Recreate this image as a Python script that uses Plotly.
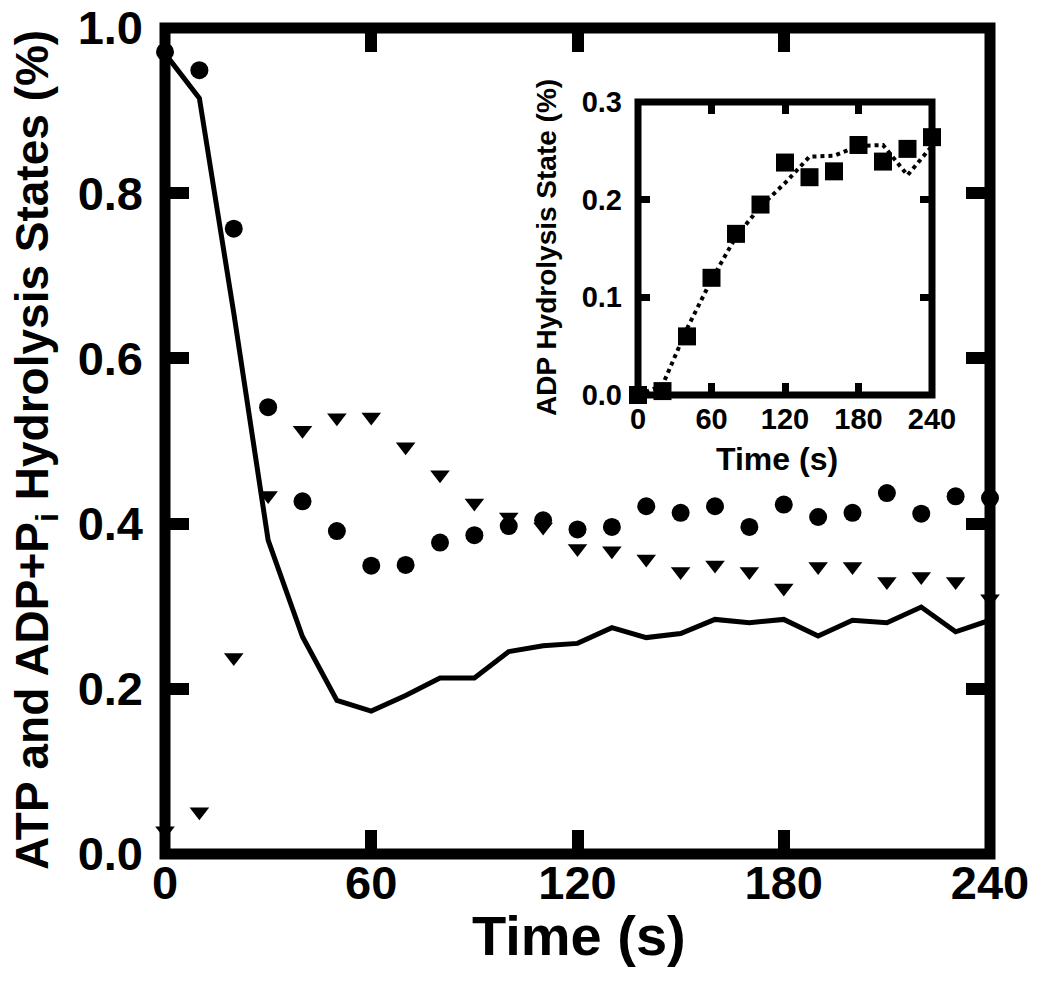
import plotly.graph_objects as go

# ---------------- data ----------------
time_main = [0, 10, 20, 30, 40, 50, 60, 70, 80, 90, 100, 110, 120, 130, 140, 150,
             160, 170, 180, 190, 200, 210, 220, 230, 240]
atp_circles = [0.971, 0.949, 0.757, 0.541, 0.427, 0.391, 0.349, 0.350, 0.377, 0.386,
               0.397, 0.404, 0.393, 0.396, 0.421, 0.413, 0.421, 0.396, 0.423, 0.408,
               0.413, 0.437, 0.412, 0.433, 0.431]
adppi_triangles = [0.028, 0.051, 0.238, 0.434, 0.513, 0.528, 0.529, 0.493, 0.459, 0.425,
                   0.408, 0.396, 0.370, 0.367, 0.357, 0.342, 0.350, 0.342, 0.322, 0.348,
                   0.348, 0.330, 0.336, 0.330, 0.309]
model_line = [0.969, 0.915, 0.655, 0.380, 0.263, 0.186, 0.173, 0.192, 0.213, 0.213,
              0.245, 0.252, 0.255, 0.274, 0.262, 0.267, 0.284, 0.280, 0.284, 0.264,
              0.283, 0.280, 0.299, 0.269, 0.283]

time_inset = [0, 20, 40, 60, 80, 100, 120, 140, 160, 180, 200, 220, 240]
adp_squares = [0.000, 0.004, 0.060, 0.120, 0.165, 0.195, 0.238, 0.223, 0.229, 0.256,
               0.239, 0.252, 0.264]
adp_model = [0.000, 0.010, 0.068, 0.118, 0.162, 0.193, 0.217, 0.244, 0.245, 0.255,
             0.256, 0.225, 0.255]

x_ticks = [0, 60, 120, 180, 240]
y_ticks_main = [0.0, 0.2, 0.4, 0.6, 0.8, 1.0]
y_ticks_inset = [0.0, 0.1, 0.2, 0.3]

# ---------------- layout geometry (pixels of the 1050x984 page) ----------------
W, H = 1050, 984
FONT = "Liberation Sans, Arial, Helvetica, sans-serif"


def px_x(p):
    return p / W


def px_y(p):
    return 1 - p / H


# main plot frame centres
M_L, M_R, M_T, M_B = 165, 990, 28, 854
# inset frame centres
I_L, I_R, I_T, I_B = 638, 932, 102, 395

fig = go.Figure()

fig.add_trace(go.Scatter(x=time_main, y=model_line, mode="lines",
                         line=dict(color="black", width=5),
                         xaxis="x", yaxis="y", showlegend=False, cliponaxis=False))
fig.add_trace(go.Scatter(x=time_main, y=adppi_triangles, mode="markers",
                         marker=dict(symbol="triangle-down", size=17, color="black"),
                         xaxis="x", yaxis="y", showlegend=False, cliponaxis=False))
fig.add_trace(go.Scatter(x=time_main, y=atp_circles, mode="markers",
                         marker=dict(symbol="circle", size=18, color="black"),
                         xaxis="x", yaxis="y", showlegend=False, cliponaxis=False))

fig.add_trace(go.Scatter(x=time_inset, y=adp_model, mode="lines",
                         line=dict(color="black", width=4, dash="dot"),
                         xaxis="x2", yaxis="y2", showlegend=False, cliponaxis=False))
fig.add_trace(go.Scatter(x=time_inset, y=adp_squares, mode="markers",
                         marker=dict(symbol="square", size=18, color="black"),
                         xaxis="x2", yaxis="y2", showlegend=False, cliponaxis=False))

tick_font_main = dict(family=FONT, size=47, color="black", weight="bold")
tick_font_inset = dict(family=FONT, size=29, color="black", weight="bold")

common = dict(ticks="inside", tickcolor="black", mirror="ticks", showline=False,
              showgrid=False, zeroline=False, automargin=False,
              ticklabeloverflow="allow")

fig.update_layout(
    template="none",
    width=W, height=H,
    margin=dict(l=0, r=0, t=0, b=0, pad=0),
    paper_bgcolor="white", plot_bgcolor="rgba(0,0,0,0)",
    showlegend=False,
    xaxis=dict(domain=[px_x(M_L), px_x(M_R)], range=[0, 240], anchor="y",
               tickvals=x_ticks, ticktext=[str(v) for v in x_ticks],
               ticklen=24, tickwidth=12,
               tickfont=tick_font_main, ticklabelstandoff=-3, **common),
    yaxis=dict(domain=[px_y(M_B), px_y(M_T)], range=[0, 1.0], anchor="x",
               tickvals=y_ticks_main, ticktext=["%.1f" % v for v in y_ticks_main],
               ticklen=24, tickwidth=12,
               tickfont=tick_font_main, ticklabelstandoff=21, **common),
    xaxis2=dict(domain=[px_x(I_L), px_x(I_R)], range=[0, 240], anchor="y2",
                tickvals=x_ticks, ticktext=[str(v) for v in x_ticks],
                ticklen=12, tickwidth=7,
                tickfont=tick_font_inset, ticklabelstandoff=4, **common),
    yaxis2=dict(domain=[px_y(I_B), px_y(I_T)], range=[0, 0.3], anchor="x2",
                tickvals=y_ticks_inset, ticktext=["%.1f" % v for v in y_ticks_inset],
                ticklen=12, tickwidth=7,
                tickfont=tick_font_inset, ticklabelstandoff=15, **common),
    shapes=[
        dict(type="rect", xref="paper", yref="paper",
             x0=px_x(M_L), x1=px_x(M_R), y0=px_y(M_B), y1=px_y(M_T),
             line=dict(color="black", width=11), fillcolor="rgba(0,0,0,0)", layer="below"),
        dict(type="rect", xref="paper", yref="paper",
             x0=px_x(I_L), x1=px_x(I_R), y0=px_y(I_B), y1=px_y(I_T),
             line=dict(color="black", width=7), fillcolor="rgba(0,0,0,0)", layer="below"),
    ],
    annotations=[
        dict(text="ATP and ADP+P<sub>i</sub> Hydrolysis States (%)", textangle=-90,
             xref="paper", yref="paper", x=px_x(36), y=px_y(450),
             xanchor="center", yanchor="middle", showarrow=False,
             font=dict(family=FONT, size=46, color="black", weight="bold")),
        dict(text="Time (s)", xref="paper", yref="paper", x=px_x(579), y=px_y(935),
             xanchor="center", yanchor="middle", showarrow=False,
             font=dict(family=FONT, size=56, color="black", weight="bold")),
        dict(text="ADP Hydrolysis State (%)", textangle=-90,
             xref="paper", yref="paper", x=px_x(547), y=px_y(248),
             xanchor="center", yanchor="middle", showarrow=False,
             font=dict(family=FONT, size=28, color="black", weight="bold")),
        dict(text="Time (s)", xref="paper", yref="paper", x=px_x(777), y=px_y(459),
             xanchor="center", yanchor="middle", showarrow=False,
             font=dict(family=FONT, size=32, color="black", weight="bold")),
    ],
)

# remove the default 8px page margin so the figure fills the 1050x984 window exactly
fig.write_html("out.html",
               config={"displayModeBar": False},
               post_script="document.body.style.margin='0px';document.body.style.overflow='hidden';")
